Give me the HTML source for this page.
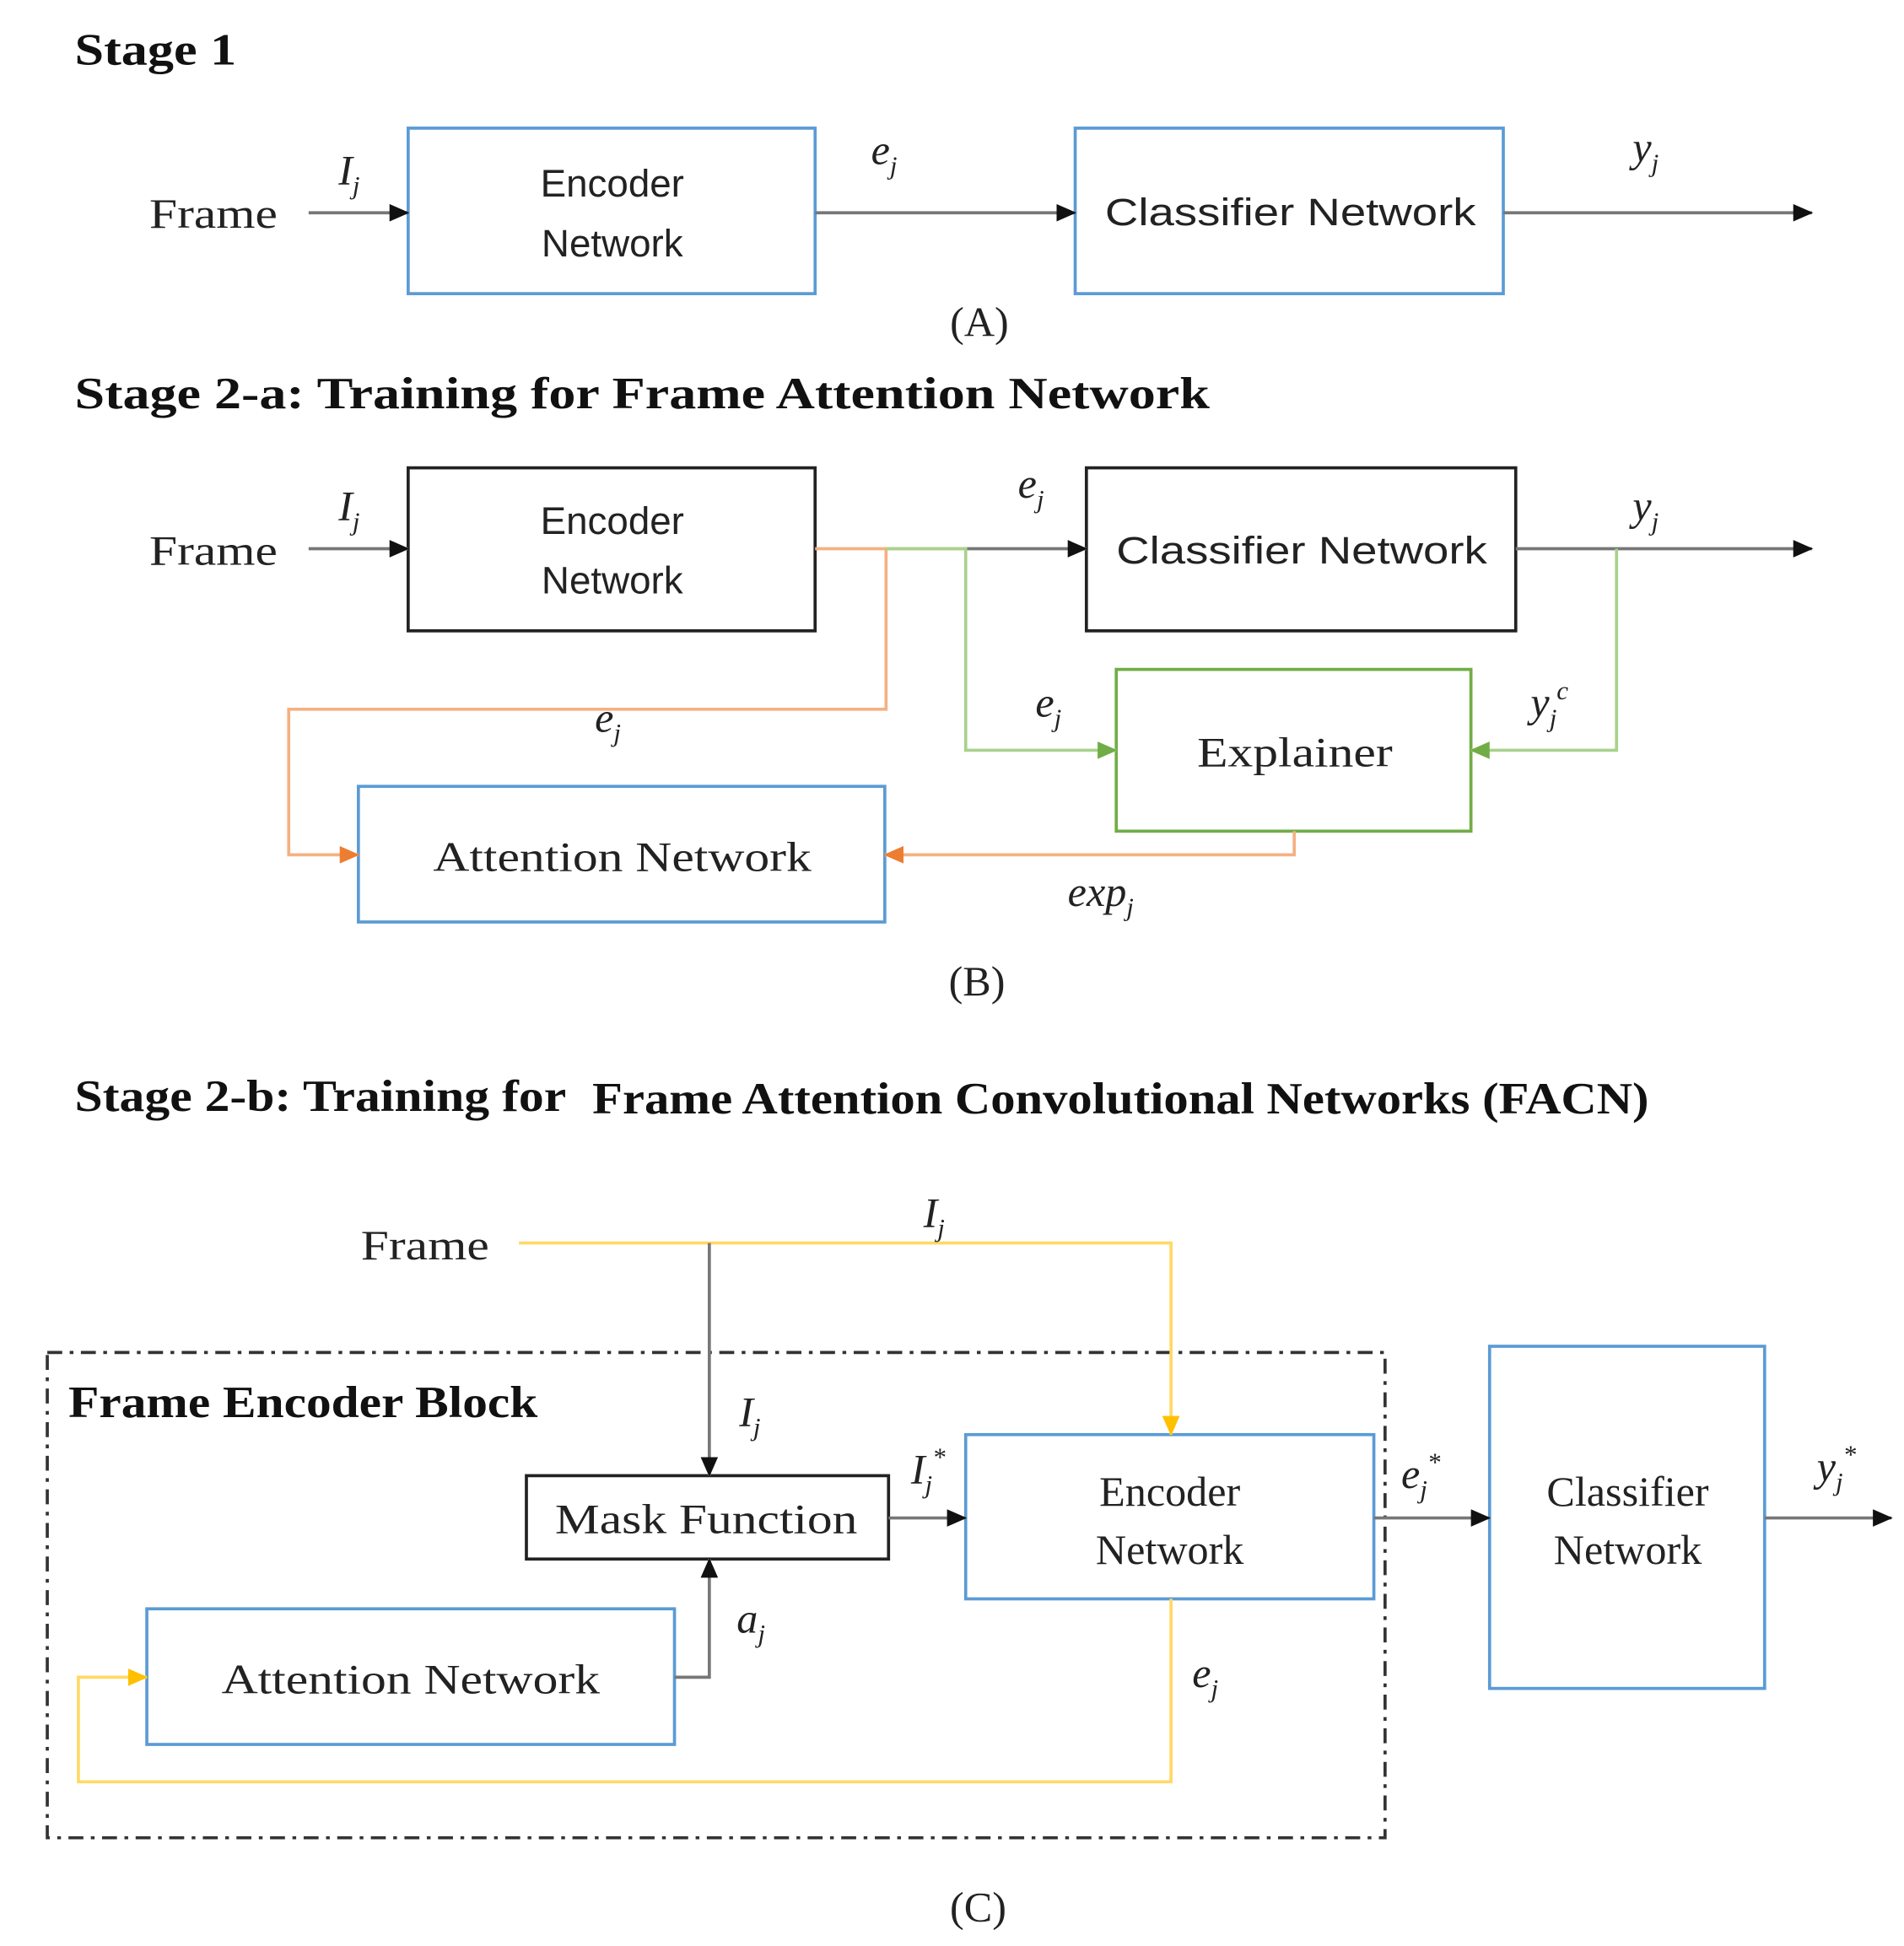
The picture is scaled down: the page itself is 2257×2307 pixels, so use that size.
<!DOCTYPE html>
<html><head><meta charset="utf-8"><style>
html,body{margin:0;padding:0;background:#fff;}
svg{display:block;}
.t{font-family:"Liberation Serif",serif;font-weight:bold;font-size:36px;fill:#111;}
.s{font-family:"Liberation Sans",sans-serif;font-size:31px;fill:#222;}
.r{font-family:"Liberation Serif",serif;font-size:34px;fill:#222;}
.m{font-family:"Liberation Serif",serif;font-style:italic;font-size:34px;fill:#222;}
.sub{font-size:21px;}
</style></head><body>
<svg width="2257" height="2307" viewBox="0 0 1530 1564" preserveAspectRatio="none" xmlns="http://www.w3.org/2000/svg">
<defs>
<marker id="ak" markerWidth="16" markerHeight="14" refX="15" refY="7" orient="auto" markerUnits="userSpaceOnUse"><path d="M0,0 L16,7 L0,14 z" fill="#111"/></marker>
<marker id="ao" markerWidth="16" markerHeight="14" refX="15" refY="7" orient="auto" markerUnits="userSpaceOnUse"><path d="M0,0 L16,7 L0,14 z" fill="#ed7d31"/></marker>
<marker id="ag" markerWidth="16" markerHeight="14" refX="15" refY="7" orient="auto" markerUnits="userSpaceOnUse"><path d="M0,0 L16,7 L0,14 z" fill="#70ad47"/></marker>
<marker id="ay" markerWidth="16" markerHeight="14" refX="15" refY="7" orient="auto" markerUnits="userSpaceOnUse"><path d="M0,0 L16,7 L0,14 z" fill="#ffc000"/></marker>
</defs>
<g fill="none" stroke-width="2.5">
<rect x="328" y="103" width="327" height="133" stroke="#5b9bd5"/>
<rect x="864" y="103" width="344" height="133" stroke="#5b9bd5"/>
<line x1="248" y1="171" x2="328" y2="171" stroke="#777" marker-end="url(#ak)"/>
<line x1="655" y1="171" x2="864" y2="171" stroke="#777" marker-end="url(#ak)"/>
<line x1="1208" y1="171" x2="1456" y2="171" stroke="#777" marker-end="url(#ak)"/>
<rect x="328" y="376" width="327" height="131" stroke="#222"/>
<rect x="873" y="376" width="345" height="131" stroke="#222"/>
<rect x="897" y="538" width="285" height="130" stroke="#70ad47"/>
<rect x="288" y="632" width="423" height="109" stroke="#5b9bd5"/>
<line x1="248" y1="441" x2="328" y2="441" stroke="#777" marker-end="url(#ak)"/>
<polyline points="655,441 776,441" stroke="#f4b183"/>
<polyline points="712,441 712,570 232,570 232,687 288,687" stroke="#f4b183" marker-end="url(#ao)"/>
<line x1="776" y1="441" x2="873" y2="441" stroke="#777" marker-end="url(#ak)"/>
<polyline points="712,441 776,441 776,603 897,603" stroke="#a9d18e" marker-end="url(#ag)"/>
<line x1="1218" y1="441" x2="1456" y2="441" stroke="#777" marker-end="url(#ak)"/>
<polyline points="1299,441 1299,603 1182,603" stroke="#a9d18e" marker-end="url(#ag)"/>
<polyline points="1040,668 1040,687 711,687" stroke="#f4b183" marker-end="url(#ao)"/>
<rect x="38" y="1087" width="1075" height="390" stroke="#333" stroke-dasharray="12,6,3,6"/>
<rect x="776" y="1153" width="328" height="132" stroke="#5b9bd5"/>
<rect x="1197" y="1082" width="221" height="275" stroke="#5b9bd5"/>
<rect x="423" y="1186" width="291" height="67" stroke="#222"/>
<rect x="118" y="1293" width="424" height="109" stroke="#5b9bd5"/>
<polyline points="417,999 941,999 941,1153" stroke="#ffd966" marker-end="url(#ay)"/>
<line x1="570" y1="999" x2="570" y2="1186" stroke="#777" marker-end="url(#ak)"/>
<line x1="714" y1="1220" x2="776" y2="1220" stroke="#777" marker-end="url(#ak)"/>
<line x1="1104" y1="1220" x2="1197" y2="1220" stroke="#777" marker-end="url(#ak)"/>
<line x1="1418" y1="1220" x2="1520" y2="1220" stroke="#777" marker-end="url(#ak)"/>
<polyline points="542,1348 570,1348 570,1253" stroke="#777" marker-end="url(#ak)"/>
<polyline points="941,1285 941,1432 63,1432 63,1348 118,1348" stroke="#ffd966" marker-end="url(#ay)"/>
</g>
<text class="t" x="60" y="52" textLength="130" lengthAdjust="spacingAndGlyphs">Stage 1</text>
<text class="r" x="120" y="183" textLength="103" lengthAdjust="spacingAndGlyphs">Frame</text>
<text class="m" x="272" y="148">I<tspan class="sub" dy="8">j</tspan></text>
<text class="s" x="492" y="158" text-anchor="middle">Encoder</text>
<text class="s" x="492" y="206" text-anchor="middle">Network</text>
<text class="m" x="700" y="132">e<tspan class="sub" dy="8">j</tspan></text>
<text class="s" x="888" y="181" textLength="298" lengthAdjust="spacingAndGlyphs">Classifier Network</text>
<text class="m" x="1312" y="130">y<tspan class="sub" dy="8">j</tspan></text>
<text class="r" x="787" y="270" text-anchor="middle">(A)</text>
<text class="t" x="60" y="328" textLength="912" lengthAdjust="spacingAndGlyphs">Stage 2-a: Training for Frame Attention Network</text>
<text class="r" x="120" y="454" textLength="103" lengthAdjust="spacingAndGlyphs">Frame</text>
<text class="m" x="272" y="418">I<tspan class="sub" dy="8">j</tspan></text>
<text class="s" x="492" y="429" text-anchor="middle">Encoder</text>
<text class="s" x="492" y="477" text-anchor="middle">Network</text>
<text class="m" x="818" y="400">e<tspan class="sub" dy="8">j</tspan></text>
<text class="s" x="897" y="453" textLength="298" lengthAdjust="spacingAndGlyphs">Classifier Network</text>
<text class="m" x="1312" y="418">y<tspan class="sub" dy="8">j</tspan></text>
<text class="m" x="478" y="588">e<tspan class="sub" dy="8">j</tspan></text>
<text class="m" x="832" y="576">e<tspan class="sub" dy="8">j</tspan></text>
<text class="m" x="1230" y="576">y<tspan class="sub" dy="8">j</tspan><tspan class="sub" dy="-22">c</tspan></text>
<text class="r" x="962" y="616" textLength="157" lengthAdjust="spacingAndGlyphs">Explainer</text>
<text class="r" x="348" y="700" textLength="304" lengthAdjust="spacingAndGlyphs">Attention Network</text>
<text class="m" x="858" y="728">exp<tspan class="sub" dy="8">j</tspan></text>
<text class="r" x="785" y="800" text-anchor="middle">(B)</text>
<text class="t" x="60" y="893" textLength="395" lengthAdjust="spacingAndGlyphs">Stage 2-b: Training for</text>
<text class="t" x="476" y="895" textLength="849" lengthAdjust="spacingAndGlyphs">Frame Attention Convolutional Networks (FACN)</text>
<text class="r" x="290" y="1012" textLength="103" lengthAdjust="spacingAndGlyphs">Frame</text>
<text class="m" x="742" y="986">I<tspan class="sub" dy="8">j</tspan></text>
<text class="t" x="55" y="1139" textLength="377" lengthAdjust="spacingAndGlyphs">Frame Encoder Block</text>
<text class="m" x="594" y="1146">I<tspan class="sub" dy="8">j</tspan></text>
<text class="r" x="446" y="1232" textLength="243" lengthAdjust="spacingAndGlyphs">Mask Function</text>
<text class="m" x="732" y="1192">I<tspan class="sub" dy="8">j</tspan><tspan class="sub" dy="-22">*</tspan></text>
<text class="r" x="940" y="1210" text-anchor="middle">Encoder</text>
<text class="r" x="940" y="1257" text-anchor="middle">Network</text>
<text class="m" x="1126" y="1196">e<tspan class="sub" dy="8">j</tspan><tspan class="sub" dy="-22">*</tspan></text>
<text class="r" x="1308" y="1210" text-anchor="middle">Classifier</text>
<text class="r" x="1308" y="1257" text-anchor="middle">Network</text>
<text class="m" x="1460" y="1190">y<tspan class="sub" dy="8">j</tspan><tspan class="sub" dy="-22">*</tspan></text>
<text class="m" x="592" y="1312">a<tspan class="sub" dy="8">j</tspan></text>
<text class="r" x="178" y="1361" textLength="304" lengthAdjust="spacingAndGlyphs">Attention Network</text>
<text class="m" x="958" y="1356">e<tspan class="sub" dy="8">j</tspan></text>
<text class="r" x="786" y="1544" text-anchor="middle">(C)</text>
</svg>
</body></html>
